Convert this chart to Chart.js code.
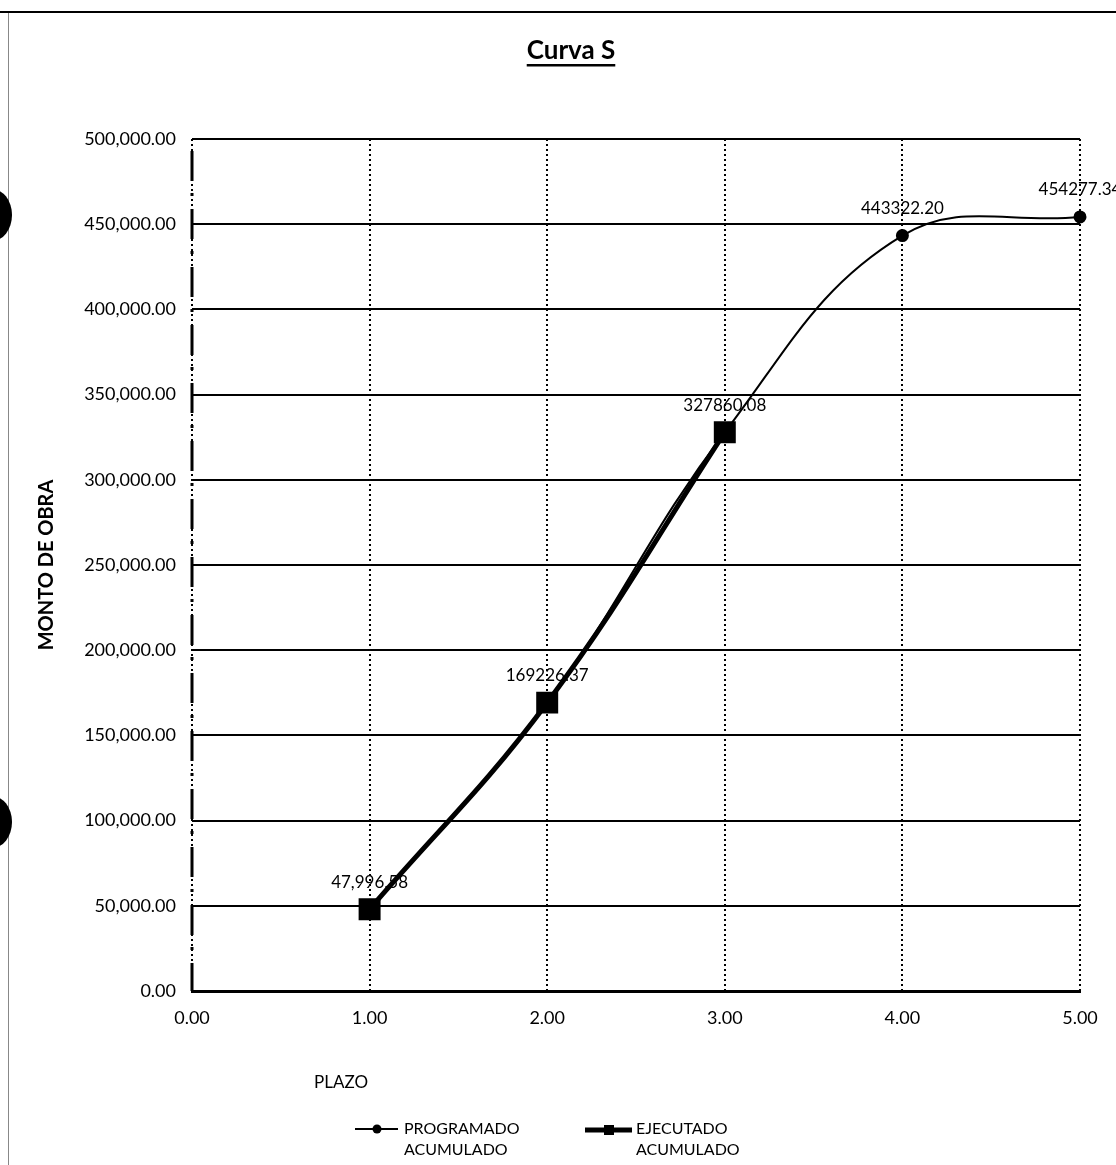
<!DOCTYPE html>
<html>
<head>
<meta charset="utf-8">
<title>Curva S</title>
<script src="https://cdn.jsdelivr.net/npm/chart.js@4/dist/chart.umd.min.js"></script>
<style>
  html, body { margin: 0; padding: 0; background: #fff; }
  #wrap { position: relative; width: 1116px; height: 1165px; }
  canvas { display: block; }
</style>
</head>
<body>
<div id="wrap"><canvas id="curvaS" width="1116" height="1165"></canvas></div>
<script>
// Curva S - monto acumulado programado vs ejecutado por plazo

const plazos = [1, 2, 3, 4, 5];
const programado = [47996.58, 169226.37, 327860.08, 443322.20, 454277.34];
const ejecutadoPlazos = [1, 2, 3];
const ejecutado = [47996.58, 169226.37, 327860.08];
// etiquetas de datos tal como aparecen en el grafico
const etiquetas = ["47,996.58", "169226.37", "327860.08", "443322.20", "454277.34"];
const xTicks = [0, 1, 2, 3, 4, 5];
const yMax = 500000;
const yStep = 50000;

const FONT = "Lato, 'Open Sans', sans-serif";

const toPoints = (xs, ys) => xs.map((x, i) => ({ x, y: ys[i] }));

// dibuja titulo, titulos de ejes, leyenda, eje izquierdo y etiquetas
const extras = {
  id: "extras",
  beforeDatasetsDraw(chart) {
    const { ctx, chartArea } = chart;
    // eje vertical izquierdo con trazo y punto
    ctx.save();
    ctx.strokeStyle = "#000";
    ctx.lineWidth = 3;
    ctx.setLineDash([30, 12, 3, 13]);
    ctx.beginPath();
    ctx.moveTo(chartArea.left, chartArea.top + 12);
    ctx.lineTo(chartArea.left, chartArea.bottom);
    ctx.stroke();
    ctx.restore();
  },
  afterDatasetsDraw(chart) {
    const { ctx } = chart;
    const meta = chart.getDatasetMeta(0);
    ctx.save();
    ctx.font = "17px " + FONT;
    ctx.fillStyle = "#000";
    ctx.textAlign = "center";
    ctx.textBaseline = "middle";
    meta.data.forEach((pt, i) => {
      ctx.fillText(etiquetas[i], pt.x, pt.y - 27);
    });
    ctx.restore();
  },
  afterDraw(chart) {
    const { ctx, chartArea } = chart;
    ctx.save();
    ctx.fillStyle = "#000";

    // marco del documento
    ctx.fillRect(0, 11, 1116, 2);
    ctx.fillStyle = "#888";
    ctx.fillRect(8, 13, 1, 1152);
    ctx.fillStyle = "#000";
    // perforaciones
    [215, 822].forEach((cy) => {
      ctx.beginPath();
      ctx.ellipse(-8, cy, 20, 26, 0, -Math.PI / 2, Math.PI / 2);
      ctx.fill();
    });

    // titulo subrayado
    ctx.font = "bold 26px " + FONT;
    ctx.textAlign = "center";
    ctx.textBaseline = "middle";
    const title = "Curva S";
    ctx.fillText(title, 571, 51);
    const tw = ctx.measureText(title).width;
    ctx.fillRect(571 - tw / 2, 64, tw, 2.5);

    // titulo eje Y
    ctx.save();
    ctx.translate(47, (chartArea.top + chartArea.bottom) / 2);
    ctx.rotate(-Math.PI / 2);
    ctx.font = "bold 20px " + FONT;
    ctx.fillText("MONTO DE OBRA", 0, 0);
    ctx.restore();

    // titulo eje X
    ctx.font = "17px " + FONT;
    ctx.textAlign = "left";
    ctx.fillText("PLAZO", 314, 1083);

    // leyenda
    ctx.font = "16px " + FONT;
    ctx.strokeStyle = "#000";
    ctx.lineWidth = 2;
    ctx.beginPath();
    ctx.moveTo(355, 1129);
    ctx.lineTo(398, 1129);
    ctx.stroke();
    ctx.beginPath();
    ctx.arc(377, 1129, 4.5, 0, Math.PI * 2);
    ctx.fill();
    ctx.fillText("PROGRAMADO", 404, 1129);
    ctx.fillText("ACUMULADO", 404, 1150);

    ctx.lineWidth = 5;
    ctx.beginPath();
    ctx.moveTo(585, 1130);
    ctx.lineTo(632, 1130);
    ctx.stroke();
    ctx.fillRect(604, 1125, 10, 10);
    ctx.fillText("EJECUTADO", 636, 1129);
    ctx.fillText("ACUMULADO", 636, 1150);
    ctx.restore();
  }
};

new Chart(document.getElementById("curvaS"), {
  type: "scatter",
  data: {
    datasets: [
      {
        label: "PROGRAMADO ACUMULADO",
        data: toPoints(plazos, programado),
        showLine: true,
        borderColor: "#000",
        backgroundColor: "#000",
        borderWidth: 2,
        tension: 0.4,
        pointStyle: "circle",
        pointRadius: 5.5,
        pointHoverRadius: 5.5,
        clip: false,
        order: 1
      },
      {
        label: "EJECUTADO ACUMULADO",
        data: toPoints(ejecutadoPlazos, ejecutado),
        showLine: true,
        borderColor: "#000",
        backgroundColor: "#000",
        borderWidth: 5,
        tension: 0.4,
        pointStyle: "rect",
        pointRadius: 12,
        pointHoverRadius: 12,
        clip: false,
        order: 2
      }
    ]
  },
  options: {
    responsive: false,
    animation: false,
    devicePixelRatio: 1,
    layout: { padding: { top: 139, right: 36, left: 0, bottom: 0 } },
    plugins: {
      legend: { display: false },
      tooltip: { enabled: false },
      title: { display: false }
    },
    scales: {
      x: {
        type: "linear",
        min: 0,
        max: 5,
        afterBuildTicks: (scale) => { scale.ticks = xTicks.map((v) => ({ value: v })); },
        afterFit: (scale) => { scale.height = 174; },
        ticks: {
          color: "#000",
          padding: 16,
          font: { family: FONT, size: 18 },
          callback: (v) => Number(v).toFixed(2)
        },
        grid: { color: "#000", lineWidth: 2, drawTicks: false },
        border: { display: true, color: "#000", width: 3, dash: [2, 3] }
      },
      y: {
        type: "linear",
        min: 0,
        max: yMax,
        afterFit: (scale) => { scale.width = 192; },
        ticks: {
          stepSize: yStep,
          color: "#000",
          padding: 16,
          font: { family: FONT, size: 18 },
          callback: (v) => Number(v).toLocaleString("en-US", { minimumFractionDigits: 2, maximumFractionDigits: 2 })
        },
        grid: { color: "#000", lineWidth: 2, drawTicks: false },
        border: { display: false }
      }
    }
  },
  plugins: [extras]
});
</script>
</body>
</html>
